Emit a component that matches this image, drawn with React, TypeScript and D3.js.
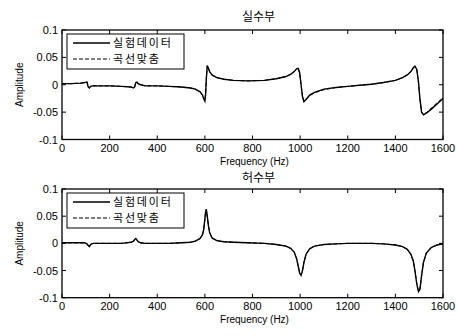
import React from "react";
import * as d3 from "d3";

const freq = [0, 20, 40, 60, 80, 95, 105, 110, 115, 120, 130, 150, 200, 250, 290, 300, 305, 310, 315, 320, 330, 350, 400, 450, 500, 540, 560, 580, 590, 595, 600, 603, 606, 610, 615, 620, 630, 650, 680, 720, 780, 850, 900, 940, 960, 975, 985, 992, 998, 1004, 1010, 1016, 1025, 1040, 1060, 1100, 1150, 1200, 1250, 1300, 1350, 1400, 1430, 1450, 1465, 1475, 1482, 1490, 1497, 1503, 1510, 1518, 1530, 1550, 1575, 1600];

const realMeasured = [0.002, 0.002, 0.002, 0.0025, 0.003, 0.004, 0.005, -0.004, -0.006, -0.003, -0.002, -0.002, -0.002, -0.003, -0.004, -0.006, -0.004, 0.004, 0.005, 0.002, 0.0, -0.002, -0.002, -0.003, -0.004, -0.006, -0.008, -0.013, -0.019, -0.025, -0.03, -0.018, 0.01, 0.035, 0.03, 0.024, 0.018, 0.013, 0.01, 0.008, 0.007, 0.008, 0.011, 0.015, 0.019, 0.024, 0.029, 0.03, 0.022, 0.0, -0.022, -0.031, -0.027, -0.019, -0.014, -0.008, -0.005, -0.003, -0.001, 0.001, 0.004, 0.008, 0.013, 0.018, 0.024, 0.031, 0.034, 0.028, 0.005, -0.025, -0.05, -0.055, -0.052, -0.045, -0.035, -0.025];

const realFit = [0.002, 0.002, 0.002, 0.0025, 0.003, 0.004, 0.005, -0.004, -0.006, -0.003, -0.002, -0.002, -0.002, -0.003, -0.004, -0.006, -0.004, 0.004, 0.005, 0.002, 0.0, -0.002, -0.002, -0.003, -0.004, -0.006, -0.008, -0.013, -0.019, -0.025, -0.029, -0.017, 0.011, 0.034, 0.03, 0.024, 0.018, 0.013, 0.01, 0.008, 0.007, 0.008, 0.011, 0.015, 0.019, 0.024, 0.028, 0.029, 0.021, 0.0, -0.021, -0.03, -0.027, -0.02, -0.015, -0.009, -0.005, -0.003, -0.001, 0.001, 0.004, 0.008, 0.013, 0.018, 0.024, 0.031, 0.033, 0.027, 0.004, -0.026, -0.05, -0.054, -0.051, -0.043, -0.033, -0.024];

const imagMeasured = [0.001, 0.001, 0.001, 0.001, 0.001, 0.001, -0.001, -0.004, -0.006, -0.002, 0.0, 0.0, 0.0, 0.0, 0.002, 0.004, 0.007, 0.009, 0.006, 0.003, 0.001, 0.0, 0.0, 0.0, 0.001, 0.002, 0.004, 0.009, 0.016, 0.025, 0.045, 0.058, 0.063, 0.05, 0.032, 0.02, 0.01, 0.005, 0.003, 0.002, 0.001, 0.0, -0.002, -0.005, -0.009, -0.016, -0.028, -0.042, -0.055, -0.059, -0.05, -0.035, -0.02, -0.01, -0.005, -0.002, -0.001, 0.0, 0.0, 0.0, -0.001, -0.003, -0.006, -0.011, -0.02, -0.032, -0.05, -0.075, -0.089, -0.085, -0.06, -0.035, -0.018, -0.008, -0.003, -0.001];

const imagFit = [0.001, 0.001, 0.001, 0.001, 0.001, 0.001, -0.001, -0.004, -0.006, -0.002, 0.0, 0.0, 0.0, 0.0, 0.002, 0.004, 0.007, 0.009, 0.006, 0.003, 0.001, 0.0, 0.0, 0.0, 0.001, 0.002, 0.004, 0.009, 0.016, 0.025, 0.044, 0.057, 0.062, 0.05, 0.032, 0.02, 0.01, 0.005, 0.003, 0.002, 0.001, 0.0, -0.002, -0.005, -0.009, -0.016, -0.028, -0.042, -0.054, -0.058, -0.05, -0.035, -0.02, -0.01, -0.005, -0.002, -0.001, 0.0, 0.0, 0.0, -0.001, -0.003, -0.006, -0.011, -0.02, -0.032, -0.05, -0.074, -0.088, -0.084, -0.06, -0.035, -0.018, -0.008, -0.003, -0.001];

const xTicks = [0, 200, 400, 600, 800, 1000, 1200, 1400, 1600];
const yTicks = [0.1, 0.05, 0, -0.05, -0.1];
const yTickLabels = ["0.1", "0.05", "0", "-0.05", "-0.1"];
const titles = ["실수부", "허수부"];
const legendLabels = ["실험데이터", "곡선맞춤"];
const xLabel = "Frequency (Hz)";
const yLabel = "Amplitude";

const FONT = "Arial, 'Liberation Sans', sans-serif";
const KFONT = "'Noto Sans CJK KR', sans-serif";

type PanelProps = {
  top: number;
  bottom: number;
  title: string;
  titleY: number;
  measured: number[];
  fit: number[];
  id: string;
};

const LEFT = 62;
const RIGHT = 443;

function Panel({ top, bottom, title, titleY, measured, fit, id }: PanelProps) {
  const x = d3.scaleLinear().domain([0, 1600]).range([LEFT, RIGHT]);
  const y = d3.scaleLinear().domain([-0.1, 0.1]).range([bottom, top]);
  const line = d3
    .line<number>()
    .x((_, i) => x(freq[i]))
    .y((d) => y(d));
  const tl = 4;
  return (
    <g>
      <defs>
        <clipPath id={id}>
          <rect x={LEFT} y={top} width={RIGHT - LEFT} height={bottom - top} />
        </clipPath>
      </defs>
      <text x={(LEFT + RIGHT) / 2 + 6} y={titleY} textAnchor="middle" fontFamily={KFONT} fontSize={12} fill="#000">
        {title}
      </text>
      <g clipPath={`url(#${id})`}>
        <path d={line(measured) || ""} fill="none" stroke="#000" strokeWidth={1.4} />
        <path d={line(fit) || ""} fill="none" stroke="#000" strokeWidth={1} strokeDasharray="4,2" />
      </g>
      <rect x={LEFT} y={top} width={RIGHT - LEFT} height={bottom - top} fill="none" stroke="#000" strokeWidth={1.3} />
      {xTicks.map((t) => (
        <g key={"x" + t}>
          <line x1={x(t)} x2={x(t)} y1={bottom} y2={bottom - tl} stroke="#000" />
          <line x1={x(t)} x2={x(t)} y1={top} y2={top + tl} stroke="#000" />
          <text x={x(t)} y={bottom + 12} textAnchor="middle" fontFamily={FONT} fontSize={11} fill="#000">
            {t}
          </text>
        </g>
      ))}
      {yTicks.map((t, i) => (
        <g key={"y" + t}>
          <line x1={LEFT} x2={LEFT + tl} y1={y(t)} y2={y(t)} stroke="#000" />
          <line x1={RIGHT} x2={RIGHT - tl} y1={y(t)} y2={y(t)} stroke="#000" />
          <text x={LEFT - 4} y={y(t) + 4} textAnchor="end" fontFamily={FONT} fontSize={11} fill="#000">
            {yTickLabels[i]}
          </text>
        </g>
      ))}
      <text x={(LEFT + RIGHT) / 2 + 2} y={bottom + 25} textAnchor="middle" fontFamily={FONT} fontSize={10} fill="#000">
        {xLabel}
      </text>
      <text
        transform={`translate(${23},${(top + bottom) / 2}) rotate(-90)`}
        textAnchor="middle"
        fontFamily={FONT}
        fontSize={10}
        fill="#000"
      >
        {yLabel}
      </text>
      <g>
        <rect x={67} y={top + 4} width={117} height={35} fill="#fff" stroke="#000" strokeWidth={1} />
        <line x1={73} x2={110} y1={top + 13} y2={top + 13} stroke="#000" strokeWidth={1.4} />
        <text x={113} y={top + 17} fontFamily={KFONT} fontSize={11} letterSpacing={1.8} fill="#000">
          {legendLabels[0]}
        </text>
        <line x1={73} x2={110} y1={top + 29} y2={top + 29} stroke="#000" strokeWidth={1} strokeDasharray="4,2" />
        <text x={113} y={top + 33} fontFamily={KFONT} fontSize={11} letterSpacing={1.8} fill="#000">
          {legendLabels[1]}
        </text>
      </g>
    </g>
  );
}

export default function App() {
  return (
    <svg width={457} height={336} style={{ position: "absolute", left: 0, top: 0, background: "#fff" }}>
      <rect x={0} y={0} width={457} height={336} fill="#fff" />
      <Panel top={30} bottom={139.5} title={titles[0]} titleY={21} measured={realMeasured} fit={realFit} id="c1" />
      <Panel top={189} bottom={297.7} title={titles[1]} titleY={182} measured={imagMeasured} fit={imagFit} id="c2" />
    </svg>
  );
}
